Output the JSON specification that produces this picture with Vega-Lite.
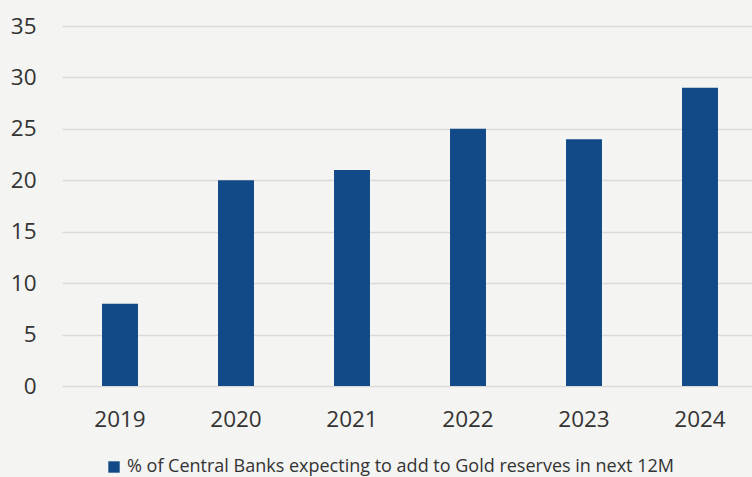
{
  "$schema": "https://vega.github.io/schema/vega-lite/v6.json",
  "autosize": "none",
  "width": 696,
  "height": 360,
  "padding": {"left": 62, "top": 26, "right": 0, "bottom": 91},
  "background": "#f4f4f2",
  "config": {
    "view": {"stroke": null},
    "font": "Open Sans"
  },
  "data": {
    "values": [
      {"year": "2019", "value": 8, "series": "% of Central Banks expecting to add to Gold reserves in next 12M"},
      {"year": "2020", "value": 20, "series": "% of Central Banks expecting to add to Gold reserves in next 12M"},
      {"year": "2021", "value": 21, "series": "% of Central Banks expecting to add to Gold reserves in next 12M"},
      {"year": "2022", "value": 25, "series": "% of Central Banks expecting to add to Gold reserves in next 12M"},
      {"year": "2023", "value": 24, "series": "% of Central Banks expecting to add to Gold reserves in next 12M"},
      {"year": "2024", "value": 29, "series": "% of Central Banks expecting to add to Gold reserves in next 12M"}
    ]
  },
  "mark": {"type": "bar"},
  "encoding": {
    "x": {
      "field": "year",
      "type": "ordinal",
      "scale": {"paddingInner": 0.69, "paddingOuter": 0.345},
      "axis": {
        "title": null,
        "labelAngle": 0,
        "labelFontSize": 22.5,
        "labelColor": "#333333",
        "labelPadding": 22,
        "ticks": false,
        "domain": false,
        "grid": false
      }
    },
    "y": {
      "field": "value",
      "type": "quantitative",
      "scale": {"domain": [0, 35], "nice": false},
      "axis": {
        "title": null,
        "values": [0, 5, 10, 15, 20, 25, 30, 35],
        "labelFontSize": 22.5,
        "labelColor": "#333333",
        "labelPadding": 26,
        "ticks": false,
        "domain": false,
        "gridColor": "#d9d9d9",
        "gridWidth": 1.5
      }
    },
    "color": {
      "field": "series",
      "type": "nominal",
      "scale": {"range": ["#124a88"]},
      "legend": {
        "title": null,
        "orient": "none",
        "legendX": 43,
        "legendY": 432,
        "symbolType": "square",
        "symbolSize": 130,
        "symbolStrokeWidth": 0,
        "labelOffset": 4,
        "labelFontSize": 18,
        "labelColor": "#333333",
        "labelLimit": 700
      }
    }
  }
}
